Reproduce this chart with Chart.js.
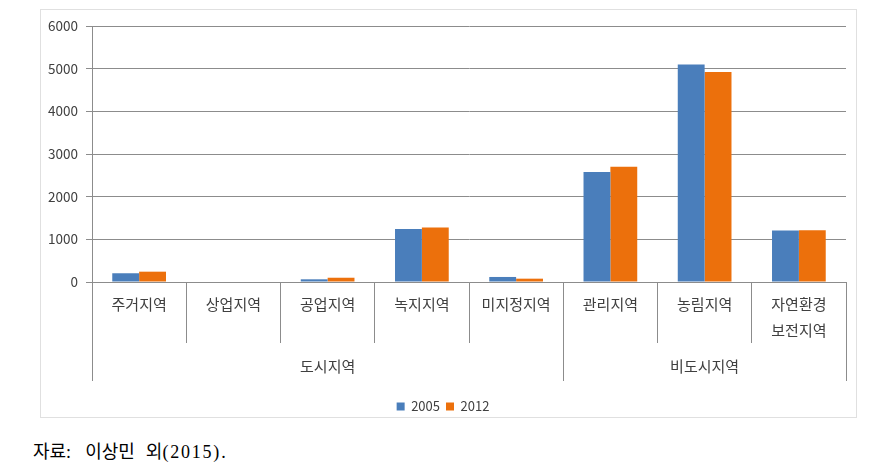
<!DOCTYPE html>
<html>
<head>
<meta charset="utf-8">
<script src="https://cdn.jsdelivr.net/npm/chart.js@4.4.0/dist/chart.umd.min.js"></script>
<style>
  body { margin: 0; background: #fff; width: 883px; height: 469px; position: relative; overflow: hidden; }
  #box { position: absolute; left: 40px; top: 9px; width: 817px; height: 409px; border: 1px solid #e0e0e0; box-sizing: border-box; }
  #myChart { position: absolute; left: 40px; top: 9px; }
  #note { position: absolute; left: 33px; top: 442px; font: 18px/20px "Liberation Serif", "Noto Sans CJK KR", serif; color: #000; white-space: nowrap; }
  #note span { display: inline-block; }
  #note .yr { letter-spacing: 1.8px; }
</style>
</head>
<body>
<div id="box"></div>
<canvas id="myChart" width="817" height="414"></canvas>
<div id="note"><span>자료:</span><span style="margin-left:14px">이상민</span><span style="margin-left:11px">외</span><span class="yr">(2015).</span></div>
<script>
  // categories and groups
  let zones = ['주거지역', '상업지역', '공업지역', '녹지지역', '미지정지역', '관리지역', '농림지역', ['자연환경', '보전지역']];
  let groups = ['도시지역', '비도시지역'];
  let groupSizes = [5, 3];
  let years = ['2005', '2012'];
  let val2005 = [205, 0, 63, 1245, 118, 2580, 5100, 1205];
  let val2012 = [242, 0, 100, 1277, 78, 2700, 4920, 1210];
  let yTicks = [0, 1000, 2000, 3000, 4000, 5000, 6000];

  let fnt = '"Noto Sans CJK KR", "Noto Sans", sans-serif';
  let gray = '#8c8c8c';
  let txt = '#404040';

  // group boundaries and centers on the category index scale
  let bounds = [-0.5];
  let centers = [];
  let pos = -0.5;
  groupSizes.forEach(n => { centers.push(pos + n / 2); pos += n; bounds.push(pos); });

  let ctx = document.getElementById('myChart');
  document.myChart = new Chart(ctx, {
    type: 'bar',
    data: {
      labels: zones,
      datasets: [
        { label: years[0], data: val2005, backgroundColor: '#4A7EBB', barPercentage: 1, categoryPercentage: 0.57 },
        { label: years[1], data: val2012, backgroundColor: '#EC700C', barPercentage: 1, categoryPercentage: 0.57 }
      ]
    },
    options: {
      responsive: false,
      animation: false,
      layout: { padding: { left: 0, right: 11, top: 17, bottom: 0 } },
      scales: {
        y: {
          min: 0, max: 6000,
          afterBuildTicks: s => { s.ticks = yTicks.map(v => ({ value: v })); },
          afterFit: s => { s.width = 52; },
          ticks: { padding: 8, color: txt, font: { family: fnt, size: 13.5 }, callback: v => String(v) },
          grid: { color: gray, tickLength: 6 },
          border: { color: gray }
        },
        x: {
          weight: 0,
          afterFit: s => { s.height = 61; },
          grid: { drawOnChartArea: false, tickLength: 61, color: gray },
          border: { color: gray },
          ticks: { padding: -52, color: txt, maxRotation: 0, autoSkip: false, font: { family: fnt, size: 15, lineHeight: 1.73 } }
        },
        x2: {
          type: 'linear',
          position: 'bottom',
          weight: 1,
          min: -0.5, max: 7.5,
          offset: false,
          afterBuildTicks: s => { s.ticks = bounds.concat(centers).sort((a, b) => a - b).map(v => ({ value: v })); },
          afterFit: s => { s.height = 51; },
          grid: {
            offset: false, drawOnChartArea: false, tickLength: 38,
            color: c => bounds.includes(c.tick.value) ? gray : 'rgba(0,0,0,0)'
          },
          border: { display: false },
          ticks: {
            padding: -24, color: txt, maxRotation: 0, autoSkip: false,
            font: { family: fnt, size: 15 },
            callback: v => { let i = centers.indexOf(v); return i >= 0 ? groups[i] : ''; }
          }
        }
      },
      plugins: {
        legend: {
          position: 'bottom',
          labels: { boxWidth: 8, boxHeight: 8, padding: 6, color: txt, font: { family: fnt, size: 13 } }
        },
        tooltip: { enabled: false }
      }
    }
  });
</script>
</body>
</html>
